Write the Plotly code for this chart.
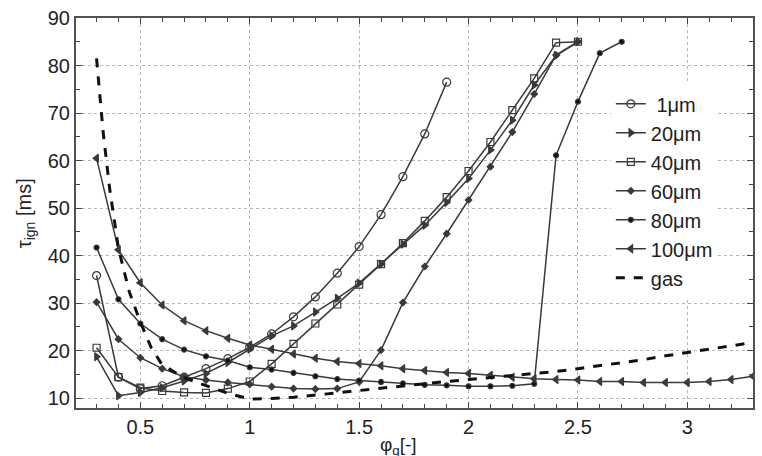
import plotly.graph_objects as go

# ---- data ----
x_1um = [0.3, 0.4, 0.5, 0.6, 0.7, 0.8, 0.9, 1.0, 1.1, 1.2, 1.3, 1.4, 1.5, 1.6, 1.7, 1.8, 1.9]
tau_1um = [35.8, 14.4, 12.0, 12.6, 14.4, 16.2, 18.3, 20.7, 23.5, 27.1, 31.3, 36.3, 41.9, 48.6, 56.6, 65.6, 76.5]

x_to25 = [0.3, 0.4, 0.5, 0.6, 0.7, 0.8, 0.9, 1.0, 1.1, 1.2, 1.3, 1.4, 1.5, 1.6, 1.7, 1.8, 1.9,
          2.0, 2.1, 2.2, 2.3, 2.4, 2.5]
tau_20um = [18.7, 10.5, 11.2, 12.2, 13.6, 15.2, 17.5, 20.3, 23.1, 25.2, 28.1, 31.0, 34.2, 38.2, 42.4,
            46.4, 51.2, 56.2, 62.2, 68.5, 75.9, 82.1, 85.0]
tau_40um = [20.6, 14.4, 12.2, 11.5, 11.2, 11.1, 12.0, 13.5, 17.2, 21.4, 25.7, 29.7, 33.9, 38.2, 42.6,
            47.3, 52.3, 57.8, 63.9, 70.6, 77.3, 84.8, 85.0]
tau_60um = [30.2, 22.4, 18.5, 16.2, 14.5, 13.8, 13.3, 12.9, 12.4, 12.0, 11.9, 12.0, 13.4, 20.1, 30.1,
            37.7, 44.6, 51.7, 58.7, 66.0, 74.0, 82.2, 85.0]

x_80um = [0.3, 0.4, 0.5, 0.6, 0.7, 0.8, 0.9, 1.0, 1.1, 1.2, 1.3, 1.4, 1.5, 1.6, 1.7, 1.8, 1.9,
          2.0, 2.1, 2.2, 2.3, 2.4, 2.5, 2.6, 2.7]
tau_80um = [41.7, 30.8, 25.7, 22.4, 20.2, 18.8, 17.9, 16.5, 16.0, 15.3, 14.6, 14.0, 13.7, 13.4, 13.1,
            12.8, 12.7, 12.5, 12.5, 12.6, 13.0, 61.1, 72.4, 82.6, 85.0]

x_100um = [0.3, 0.4, 0.5, 0.6, 0.7, 0.8, 0.9, 1.0, 1.1, 1.2, 1.3, 1.4, 1.5, 1.6, 1.7, 1.8, 1.9,
           2.0, 2.1, 2.2, 2.3, 2.4, 2.5, 2.6, 2.7, 2.8, 2.9, 3.0, 3.1, 3.2, 3.3]
tau_100um = [60.5, 41.2, 34.3, 29.6, 26.3, 24.2, 22.6, 21.2, 20.3, 19.3, 18.4, 17.7, 17.3, 16.8, 16.2,
             15.8, 15.4, 15.2, 14.8, 14.4, 14.1, 13.9, 13.8, 13.5, 13.5, 13.3, 13.3, 13.3, 13.5, 13.9, 14.6]

x_gas = [0.3, 0.33, 0.36, 0.4, 0.45, 0.5, 0.55, 0.6, 0.7, 0.8, 0.9, 1.0, 1.1, 1.2, 1.3, 1.4, 1.5,
         1.6, 1.7, 1.8, 1.9, 2.0, 2.1, 2.2, 2.3, 2.4, 2.5, 2.6, 2.7, 2.8, 2.9, 3.0, 3.1, 3.2, 3.3]
tau_gas = [81.5, 66.0, 54.0, 41.5, 32.3, 26.0, 20.6, 17.0, 14.3, 12.7, 11.0, 9.8, 9.9, 10.2, 10.6, 11.1,
           11.6, 12.1, 12.6, 13.1, 13.5, 13.9, 14.3, 14.7, 15.1, 15.6, 16.2, 16.8, 17.4, 18.1, 18.9,
           19.6, 20.3, 21.0, 21.7]

LINE = "#3a3a3a"
TEXT = "#222222"
FONT = "Liberation Sans, Arial, sans-serif"

fig = go.Figure()

def add(x, y, name, symbol, size, fill):
    fig.add_trace(go.Scatter(
        x=x, y=y, name=name, mode="lines+markers",
        line=dict(color=LINE, width=1.5),
        marker=dict(symbol=symbol, size=size, color=fill,
                    line=dict(color=LINE, width=1.2)),
    ))

add(x_1um, tau_1um, " 1μm", "circle-open", 8, LINE)
add(x_to25, tau_20um, "20μm", "triangle-right", 7, LINE)
add(x_to25, tau_40um, "40μm", "square-open", 7, LINE)
add(x_to25, tau_60um, "60μm", "diamond", 5, LINE)
add(x_80um, tau_80um, "80μm", "circle", 5, "#111111")
add(x_100um, tau_100um, "100μm", "triangle-left", 7, LINE)
fig.add_trace(go.Scatter(x=x_gas, y=tau_gas, name="gas", mode="lines",
                         line=dict(color="#111111", width=3, dash="dash")))

axis_common = dict(
    showgrid=True, gridcolor="#b5b5b5", griddash="dot", gridwidth=1,
    ticks="inside", ticklen=6, tickcolor="#444", tickwidth=1,
    showline=True, linecolor="#505050", linewidth=2, mirror="allticks",
    zeroline=False,
    tickfont=dict(size=20, family=FONT, color=TEXT),
)

fig.update_xaxes(range=[0.206, 3.3], tick0=0, dtick=0.5,
                 minor=dict(tick0=0, dtick=0.1, ticks="inside", ticklen=4, tickcolor="#444", showgrid=False),
                 **axis_common)
fig.update_yaxes(range=[7.92, 90], tick0=0, dtick=10,
                 minor=dict(tick0=0, dtick=5, ticks="inside", ticklen=4, tickcolor="#444", showgrid=False),
                 **axis_common)

fig.update_layout(
    width=762, height=456,
    margin=dict(l=76, r=7, t=14, b=48),
    paper_bgcolor="white", plot_bgcolor="white",
    font=dict(family=FONT, size=20, color=TEXT),
    showlegend=True,
    legend=dict(x=0.79, y=0.83, xanchor="left", yanchor="top",
                bgcolor="white", borderwidth=0,
                font=dict(size=20, family=FONT, color=TEXT),
                tracegroupgap=0, itemwidth=30),
    annotations=[
        dict(text="τ<sub>ign</sub> [ms]", textangle=-90, xref="paper", yref="paper",
             x=-0.075, y=0.5, xanchor="center", yanchor="middle", showarrow=False,
             font=dict(size=20, family=FONT, color=TEXT)),
        dict(text="φ<sub>g</sub>[-]", xref="paper", yref="paper",
             x=0.476, y=-0.098, xanchor="center", yanchor="middle", showarrow=False,
             font=dict(size=19, family=FONT, color=TEXT)),
    ],
)

fig.write_html("out.html")
